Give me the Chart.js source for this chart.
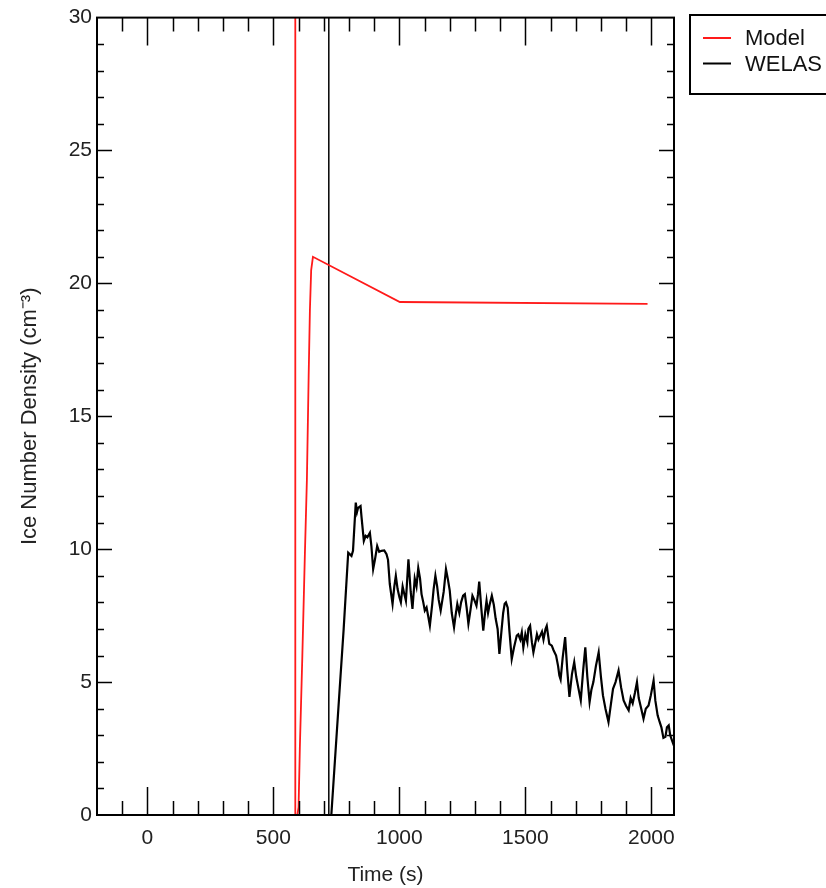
<!DOCTYPE html>
<html>
<head>
  <title>Ice Number Density</title>
  <script src="https://cdn.jsdelivr.net/npm/chart.js"></script>
  <style>
    html, body { margin: 0; padding: 0; background: #fff; }
    #wrap { width: 826px; height: 888px; }
  </style>
</head>
<body>
  <div id="wrap"><canvas id="iceChart"></canvas></div>

  <script>
    // Model run (time in s, ice number density in cm^-3)
    const modelTime  = [-100, 595, 600, 605, 615, 625, 633, 640, 645, 650, 657, 1002, 1985];
    const modelValue = [0, 0, 0.3, 2.5, 6, 9.8, 12.6, 16.5, 19, 20.5, 21.0, 19.3, 19.23];

    // WELAS measurement
    const welasTime = [
      -200, 730, 760, 779, 797, 810, 816, 827, 832, 836, 846, 850, 859, 866, 873, 883, 889, 896, 903,
      912, 920, 929, 940, 949, 955, 962, 973, 980, 986, 993, 1000, 1006, 1013, 1020, 1026, 1036,
      1045, 1052, 1061, 1068, 1075, 1082, 1088, 1095, 1101, 1108, 1114, 1121, 1130, 1136, 1143,
      1150, 1156, 1164, 1176, 1185, 1192, 1200, 1208, 1217, 1223, 1230, 1238, 1245, 1253, 1260,
      1267, 1274, 1282, 1290, 1297, 1306, 1312, 1317, 1325, 1333, 1340, 1346, 1352, 1358, 1367,
      1375, 1382, 1390, 1397, 1405, 1412, 1418, 1423, 1430, 1437, 1446, 1455, 1466, 1472, 1480,
      1486, 1492, 1500, 1508, 1512, 1519, 1526, 1532, 1540, 1546, 1552, 1559, 1566, 1572, 1580,
      1585, 1595, 1605, 1612, 1622, 1630, 1635, 1640, 1648, 1658, 1666, 1675, 1685, 1694, 1702,
      1710, 1720, 1730, 1738, 1746, 1755, 1762, 1770, 1780, 1791, 1800, 1808, 1818, 1830, 1840,
      1848, 1858, 1870, 1880, 1890, 1900, 1910, 1918, 1926, 1935, 1943, 1950, 1960, 1969, 1978,
      1989, 1998, 2009, 2016, 2025, 2033, 2040, 2048, 2056, 2062, 2069, 2075, 2082, 2090
    ];
    const welasValue = [
      0, 0, 4.3, 7.0, 9.87, 9.75, 9.94, 11.75, 11.4, 11.55, 11.62, 11.2, 10.31, 10.5, 10.45, 10.62, 10.12, 9.25, 9.6,
      10.12, 9.9, 9.94, 9.95, 9.81, 9.6, 8.69, 7.94, 8.6, 9.0, 8.5, 8.2, 8.0, 8.6, 8.3, 8.06, 9.62,
      8.4, 7.75, 8.9, 8.6, 9.29, 8.9, 8.31, 8.0, 7.69, 7.81, 7.5, 7.12, 7.9, 8.5, 9.0,
      8.6, 8.1, 7.69, 8.4, 9.25, 8.9, 8.44, 7.6, 7.06, 7.5, 7.94, 7.6, 8.0, 8.25, 8.31,
      7.8, 7.19, 7.7, 8.25, 8.1, 7.87, 8.3, 8.78, 7.8, 6.94, 7.6, 8.06, 7.6, 7.9, 8.25,
      7.9, 7.4, 7.0, 6.06, 6.9, 7.6, 7.95, 8.0, 7.8, 6.9, 5.87, 6.3, 6.75, 6.8, 6.6,
      6.87, 6.3, 6.8, 6.5, 7.0, 7.12, 6.5, 6.12, 6.5, 6.8, 6.6, 6.75, 6.9, 6.6, 7.0,
      7.12, 6.44, 6.37, 6.2, 6.0, 5.6, 5.25, 5.1, 5.9, 6.69, 5.5, 4.44, 5.3, 5.75, 5.2,
      4.8, 4.31, 5.5, 6.31, 5.2, 4.25, 4.7, 5.0, 5.6, 6.12, 5.2, 4.5, 4.0, 3.5, 4.2,
      4.75, 5.0, 5.44, 4.8, 4.31, 4.1, 3.94, 4.4, 4.2, 4.6, 5.0, 4.4, 4.0, 3.62, 4.0,
      4.12, 4.5, 5.06, 4.3, 3.75, 3.5, 3.3, 2.9, 2.94, 3.3, 3.37, 3.0, 2.81, 2.6
    ];

    // onset markers (vertical lines)
    const modelOnset = 587;
    const welasOnset = 720;

    const xLabelTicks = [0, 500, 1000, 1500, 2000];
    const yLabelTicks = [0, 5, 10, 15, 20, 25, 30];
    const xMinorTicks = [-100, 0, 100, 200, 300, 400, 500, 600, 700, 800, 900, 1000, 1100, 1200,
                         1300, 1400, 1500, 1600, 1700, 1800, 1900, 2000];
    const yMinorTicks = [1, 2, 3, 4, 5, 6, 7, 8, 9, 10, 11, 12, 13, 14, 15, 16, 17, 18, 19, 20,
                         21, 22, 23, 24, 25, 26, 27, 28, 29];

    const FONT = '"Liberation Sans", Arial, Helvetica, sans-serif';
    const zip = (xs, ys) => xs.map((x, i) => ({ x, y: ys[i] }));

    // ticks drawn inside the frame on all four sides, plus the frame itself
    const innerTicks = {
      id: 'innerTicks',
      afterDatasetsDraw(chart) {
        const { ctx, chartArea: a, scales: { x, y } } = chart;
        ctx.save();
        ctx.strokeStyle = '#000';
        ctx.lineWidth = 1.5;
        ctx.beginPath();
        xMinorTicks.forEach(v => {
          const px = Math.round(x.getPixelForValue(v)) + 0.5;
          const len = v % 500 === 0 ? 28 : 14;
          ctx.moveTo(px, a.bottom); ctx.lineTo(px, a.bottom - len);
          ctx.moveTo(px, a.top); ctx.lineTo(px, a.top + len);
        });
        yMinorTicks.forEach(v => {
          const py = Math.round(y.getPixelForValue(v)) + 0.5;
          const len = v % 5 === 0 ? 15 : 7;
          ctx.moveTo(a.left, py); ctx.lineTo(a.left + len, py);
          ctx.moveTo(a.right, py); ctx.lineTo(a.right - len, py);
        });
        ctx.stroke();
        ctx.lineWidth = 2;
        ctx.strokeRect(a.left, a.top, a.right - a.left, a.bottom - a.top);
        ctx.restore();
      }
    };

    // boxed legend to the right of the plot
    const boxLegend = {
      id: 'boxLegend',
      afterDraw(chart) {
        const { ctx } = chart;
        const items = chart.data.datasets.filter(d => !d.hideInLegend);
        ctx.save();
        ctx.strokeStyle = '#000';
        ctx.lineWidth = 2;
        ctx.strokeRect(690, 15, 150, 79);
        ctx.font = '22px ' + FONT;
        ctx.textBaseline = 'middle';
        items.forEach((d, i) => {
          const yy = 38 + i * 25.5;
          ctx.strokeStyle = d.borderColor;
          ctx.lineWidth = 2;
          ctx.beginPath();
          ctx.moveTo(703, yy); ctx.lineTo(731, yy);
          ctx.stroke();
          ctx.fillStyle = '#111';
          ctx.fillText(d.label, 745, yy + 1);
        });
        ctx.restore();
      }
    };

    new Chart(document.getElementById('iceChart'), {
      type: 'line',
      data: {
        datasets: [
          {
            label: 'Model',
            data: zip(modelTime, modelValue),
            borderColor: '#ff1a1a',
            borderWidth: 1.8,
            pointRadius: 0,
            tension: 0
          },
          {
            label: 'WELAS',
            data: zip(welasTime, welasValue),
            borderColor: '#000000',
            borderWidth: 2.2,
            pointRadius: 0,
            tension: 0
          },
          {
            label: 'model onset',
            hideInLegend: true,
            data: [{ x: modelOnset, y: 0 }, { x: modelOnset, y: 30 }],
            borderColor: '#ff1a1a',
            borderWidth: 1.8,
            pointRadius: 0
          },
          {
            label: 'WELAS onset',
            hideInLegend: true,
            data: [{ x: welasOnset, y: 0 }, { x: welasOnset, y: 30 }],
            borderColor: '#000000',
            borderWidth: 1.5,
            pointRadius: 0
          }
        ]
      },
      options: {
        responsive: true,
        maintainAspectRatio: false,
        animation: false,
        layout: { padding: { top: 15, right: 152, bottom: 0, left: 0 } },
        plugins: {
          legend: { display: false },
          tooltip: { enabled: false }
        },
        scales: {
          x: {
            type: 'linear',
            min: -200,
            max: 2090,
            afterFit: s => { s.height = 73; },
            afterBuildTicks: s => { s.ticks = xLabelTicks.map(v => ({ value: v })); },
            grid: { display: false, drawTicks: false },
            border: { display: false },
            ticks: {
              padding: 11,
              color: '#222',
              font: { family: FONT, size: 21 },
              maxRotation: 0,
              callback: v => String(v)
            },
            title: {
              display: true,
              text: 'Time (s)',
              color: '#222',
              font: { family: FONT, size: 21 },
              padding: { top: 0, bottom: 0 }
            }
          },
          y: {
            type: 'linear',
            min: 0,
            max: 30,
            afterFit: s => { s.width = 97; },
            afterBuildTicks: s => { s.ticks = yLabelTicks.map(v => ({ value: v })); },
            grid: { display: false, drawTicks: false },
            border: { display: false },
            ticks: {
              padding: 5,
              color: '#222',
              font: { family: FONT, size: 21 },
              callback: v => String(v)
            },
            title: {
              display: true,
              text: 'Ice Number Density (cm\u207B\u00B3)',
              color: '#222',
              font: { family: FONT, size: 22 },
              padding: { top: 17, bottom: 0 }
            }
          }
        }
      },
      plugins: [innerTicks, boxLegend]
    });
  </script>
</body>
</html>
